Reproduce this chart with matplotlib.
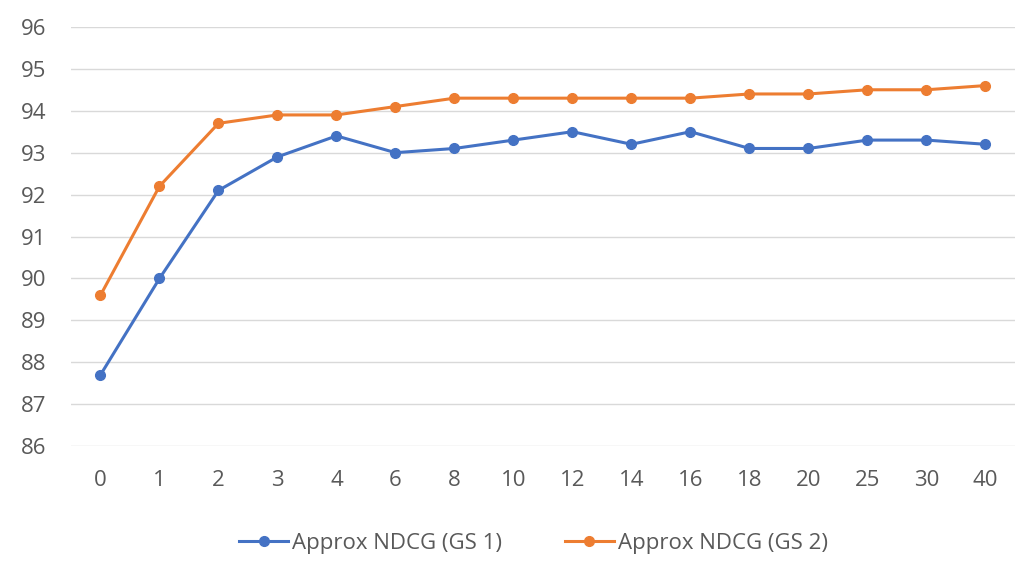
import matplotlib.pyplot as plt
import numpy as np

categories = ["0", "1", "2", "3", "4", "6", "8", "10", "12", "14", "16", "18", "20", "25", "30", "40"]
gs1 = [87.7, 90.0, 92.1, 92.9, 93.4, 93.0, 93.1, 93.3, 93.5, 93.2, 93.5, 93.1, 93.1, 93.3, 93.3, 93.2]
gs2 = [89.6, 92.2, 93.7, 93.9, 93.9, 94.1, 94.3, 94.3, 94.3, 94.3, 94.3, 94.4, 94.4, 94.5, 94.5, 94.6]

plt.rcParams['font.family'] = ['Open Sans', 'DejaVu Sans']

fig = plt.figure(figsize=(10.35, 5.72), dpi=100)
ax = fig.add_axes([0.0686, 0.220, 0.912, 0.733])

x = np.arange(len(categories))
ax.plot(x, gs1, color="#4472C4", lw=2.2, marker="o", markersize=7, label="Approx NDCG (GS 1)")
ax.plot(x, gs2, color="#ED7D31", lw=2.2, marker="o", markersize=7, label="Approx NDCG (GS 2)")

ax.set_xlim(-0.5, len(categories) - 0.5)
ax.set_ylim(86, 96)
ax.set_yticks(range(86, 97))
ax.set_xticks(x)
ax.set_xticklabels(categories)
ax.tick_params(length=0, labelsize=16, colors="#595959")
ax.tick_params(axis="x", pad=17)
ax.tick_params(axis="y", pad=18)
ax.grid(axis="y", color="#D9D9D9", lw=1)
ax.set_axisbelow(True)
for s in ax.spines.values():
    s.set_visible(False)

ax.legend(loc="upper center", bbox_to_anchor=(0.49, -0.16), ncol=2, frameon=False,
          fontsize=16, labelcolor="#595959", handlelength=2.2, handletextpad=0.2, columnspacing=2.8)

fig.savefig("out.png", dpi=100)
